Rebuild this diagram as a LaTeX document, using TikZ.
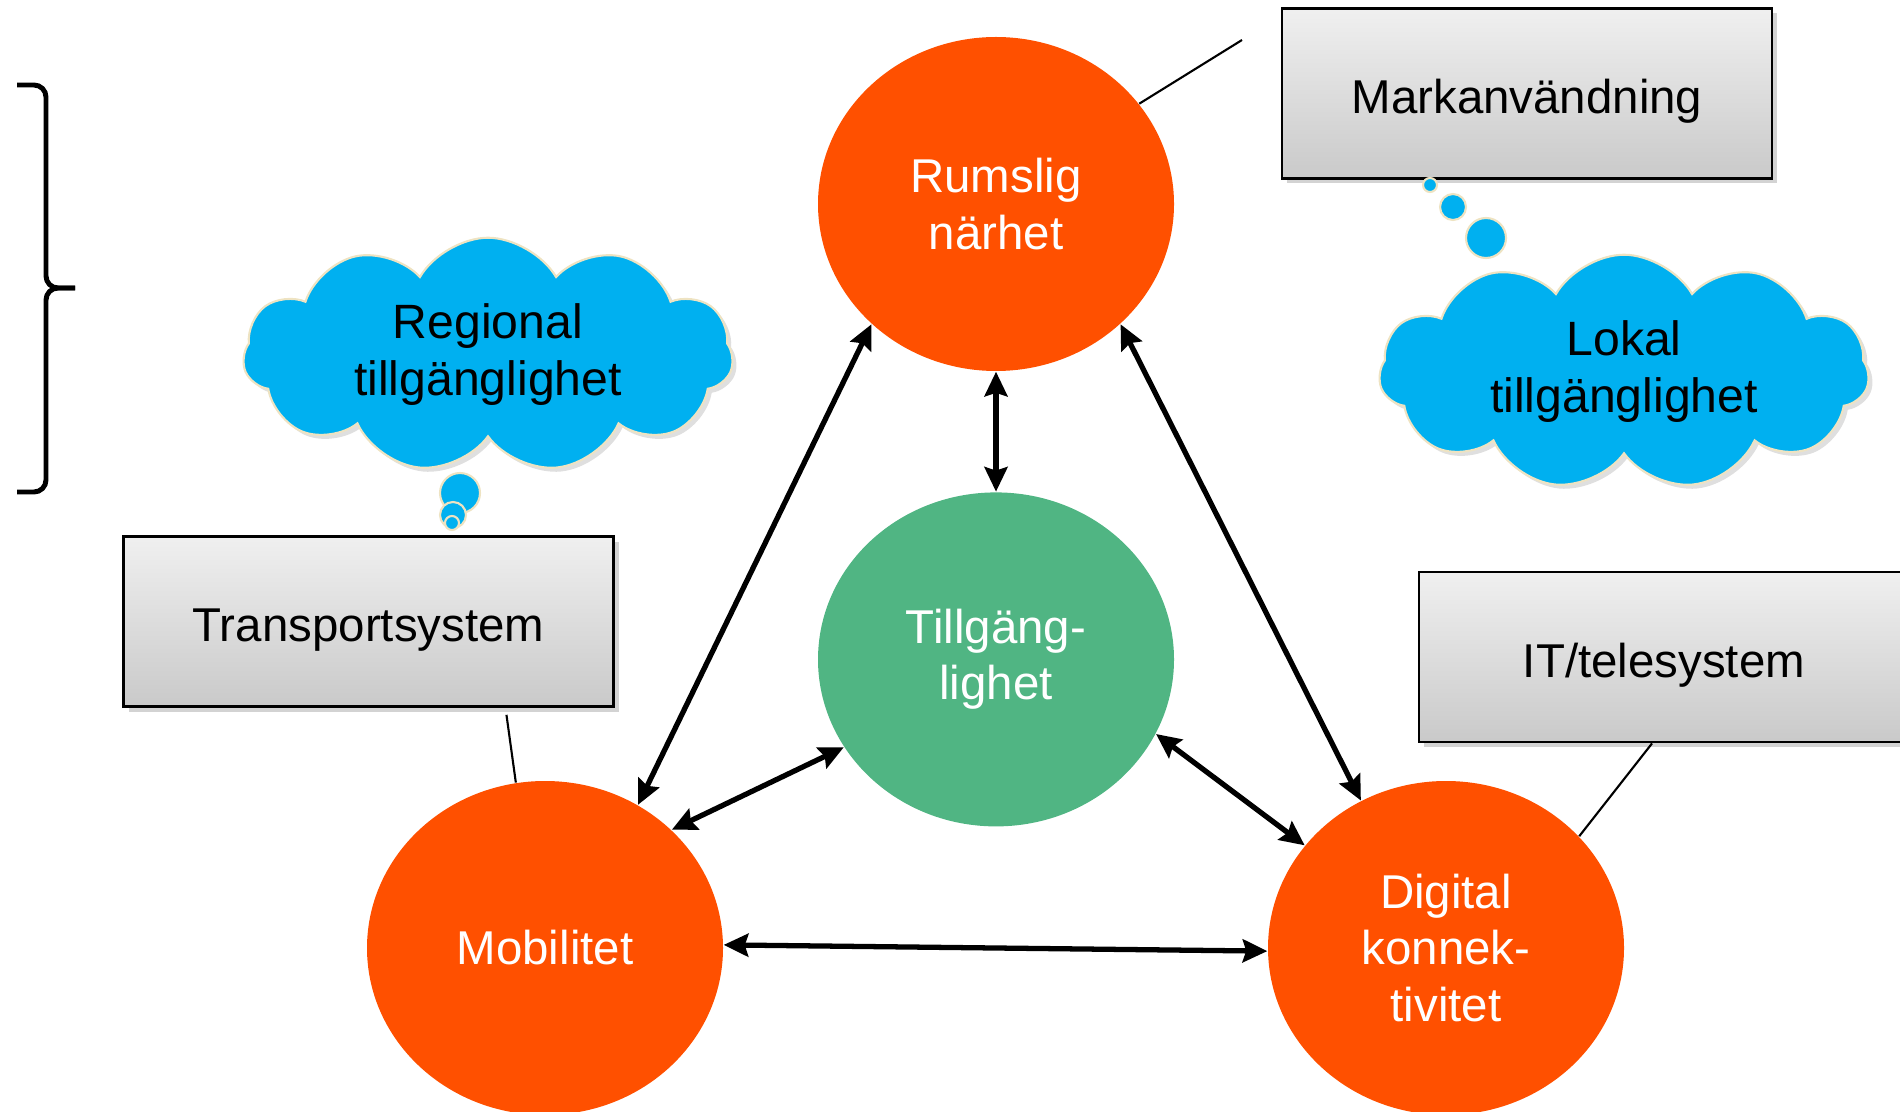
\documentclass[tikz,border=0pt]{standalone}
\usepackage{fontspec}
\setmainfont{Liberation Sans}
\usepackage{tikz}
\usetikzlibrary{positioning,shapes,shadows,arrows.meta}

\definecolor{factororange}{HTML}{FF5000}
\definecolor{accessgreen}{HTML}{50B583}
\definecolor{cloudblue}{HTML}{00B0F0}
\definecolor{cloudedge}{HTML}{EEE3C2}

\begin{document}
\begin{tikzpicture}[node distance=1.2cm,
    >={Stealth[length=7pt,width=6.5pt,inset=1pt]},
    factor/.style={ellipse, fill=factororange, minimum width=3.56cm, minimum height=3.34cm, inner sep=0pt, align=center, text=white, font=\fontsize{13.5}{16}\selectfont},
    sysbox/.style={draw, rectangle, line width=0.8pt, top color=gray!12, bottom color=gray!42, minimum width=4.9cm, minimum height=1.7cm, text height=0.5cm, text depth=0.1cm, font=\fontsize{13.5}{16}\selectfont, drop shadow={shadow xshift=0.05cm, shadow yshift=-0.05cm, opacity=0.35}},
    thought/.style={cloud, cloud puffs=11, cloud puff arc=120, aspect=2.1, inner sep=0pt, fill=cloudblue, draw=cloudedge, line width=0.6pt, minimum width=4.9cm, minimum height=1.84cm, align=center, font=\fontsize{13.7}{16.2}\selectfont, drop shadow={shadow xshift=0.04cm, shadow yshift=-0.04cm, opacity=0.25}},
    bubble/.style={circle, fill=cloudblue, draw=cloudedge, line width=0.6pt, inner sep=0pt},
    link/.style={<->, line width=1.5pt},
    tie/.style={line width=0.6pt}]
    \useasboundingbox (0,0) rectangle (19,-11.12);

    % the four factors
    \node[factor] (rum) at (9.96,-2.04) {Rumslig\\närhet};
    \node[factor, fill=accessgreen, below=of rum] (till) {Tillgäng-\\lighet};
    \node[factor] (mob) at (5.45,-9.48) {Mobilitet};
    \node[factor] (dig) at (14.46,-9.48) {Digital\\konnek-\\tivitet};

    \draw[link] (rum.south)--(till.north);
    \draw[link] (rum.224)--(mob.57);
    \draw[link] (rum.316)--(dig.120);
    \draw[link] (till.210)--(mob.43);
    \draw[link] (till.335)--(dig.144);
    \draw[link] (mob.1)--(dig.181);

    % systems
    \node[sysbox] (mark) at (15.27,-0.935) {Markanvändning};
    \node[sysbox] (trans) at (3.685,-6.215) {Transportsystem};
    \node[sysbox] (it) at (16.64,-6.57) {IT/telesystem};

    \coordinate (markend) at (12.42,-0.40);
    \draw[tie] (rum.35)--(markend);
    \draw[tie, shorten <=0.07cm] ([xshift=1.37cm]trans.south)--(mob.100);
    \draw[tie] ([xshift=-0.12cm]it.south)--(dig.40);

    % accessibility clouds
    \node[thought] (regional) at (4.88,-3.55) {Regional\\tillgänglighet};
    \node[bubble, minimum size=0.40cm] (reg1) at (4.60,-4.93) {};
    \node[bubble, minimum size=0.26cm] (reg2) at (4.53,-5.15) {};
    \node[bubble, minimum size=0.14cm] (reg3) at (4.52,-5.23) {};

    \node[thought] (lokal) at (16.24,-3.72) {Lokal\\tillgänglighet};
    \node[bubble, minimum size=0.14cm] (lok1) at (14.30,-1.85) {};
    \node[bubble, minimum size=0.26cm] (lok2) at (14.53,-2.07) {};
    \node[bubble, minimum size=0.40cm] (lok3) at (14.86,-2.38) {};

    % brace
    \coordinate (bracetop) at (0.17,-0.85);
    \coordinate (bracemid) at (0.75,-2.88);
    \coordinate (bracebot) at (0.17,-4.92);
    \draw[line width=1.4pt, rounded corners=0.12cm] (bracetop) -- (0.46,-0.85) -- (0.46,-2.88) -- (bracemid);
    \draw[line width=1.4pt, rounded corners=0.12cm] (bracebot) -- (0.46,-4.92) -- (0.46,-2.88) -- (bracemid);
\end{tikzpicture}
\end{document}
